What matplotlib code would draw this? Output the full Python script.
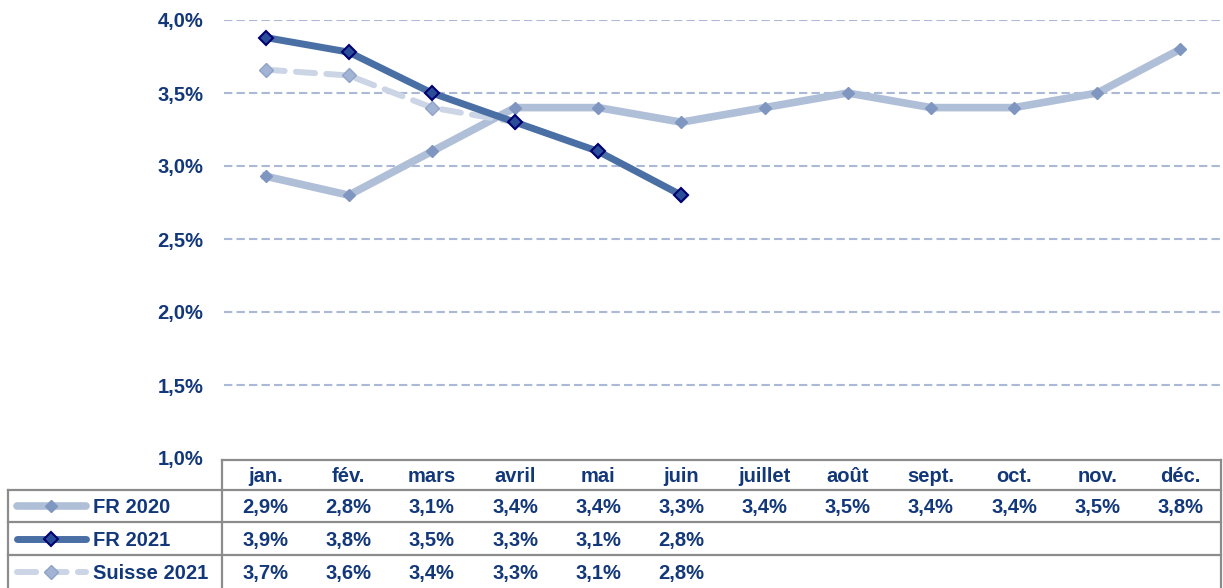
import matplotlib
matplotlib.use("Agg")
import matplotlib.pyplot as plt
from matplotlib.lines import Line2D
from matplotlib.transforms import blended_transform_factory

plt.rcParams['font.family'] = ['Liberation Sans', 'DejaVu Sans']
plt.rcParams['font.weight'] = 'bold'

# Data
months = ['jan.', 'fév.', 'mars', 'avril', 'mai', 'juin', 'juillet', 'août',
          'sept.', 'oct.', 'nov.', 'déc.']
fr_2020 = [2.93, 2.8, 3.1, 3.4, 3.4, 3.3, 3.4, 3.5, 3.4, 3.4, 3.5, 3.8]
fr_2021 = [3.88, 3.78, 3.5, 3.3, 3.1, 2.8]
ch_2021 = [3.66, 3.62, 3.4, 3.3, 3.1, 2.8]
y_ticks = [1.0, 1.5, 2.0, 2.5, 3.0, 3.5, 4.0]

txt = '#13387a'
grid_c = '#a9b9d6'
border = '#8c8c8c'
fs = 14.5

W, H = 1223, 588
fig = plt.figure(figsize=(W / 100, H / 100), dpi=100)
ax = fig.add_axes([224 / W, 1 - 458 / H, (1222 - 224) / W, (458 - 20) / H])

x = list(range(len(months)))

styles = {
    'FR 2020': dict(color='#b0bfd8', lw=5.5, marker='D', ms=6,
                    mfc='#7f96c0', mec='#7f96c0', ls='-', zorder=3),
    'Suisse 2021': dict(color='#cbd5e6', lw=4.3, marker='D', ms=7,
                        mfc='#a3b3d3', mec='#8fa3c8', ls=(0, (3.2, 1.9)),
                        dash_capstyle='round', zorder=4),
    'FR 2021': dict(color='#4a6fa5', lw=5, marker='D', ms=7,
                    mfc='#2a4d9a', mec='#000070', mew=1.5, ls='-', zorder=5),
}
series = {'FR 2020': fr_2020, 'FR 2021': fr_2021, 'Suisse 2021': ch_2021}

for name in ['FR 2020', 'Suisse 2021', 'FR 2021']:
    vals = series[name]
    ax.plot(x[:len(vals)], vals, **styles[name])

ax.set_xlim(-0.5, len(months) - 0.5)
ax.set_ylim(1.0, 4.0)
ax.set_yticks(y_ticks)
ax.set_yticklabels([f"{v:.1f}%".replace('.', ',') for v in y_ticks],
                   color=txt, fontsize=fs, fontweight='bold')
ax.tick_params(axis='y', length=0, pad=15)
ax.set_xticks([])
for t in y_ticks[1:]:
    ax.axhline(t, color=grid_c, lw=1.5, ls=(0, (4, 2)), zorder=1)
for s in ax.spines.values():
    s.set_visible(False)

# Data table below the chart
tr = blended_transform_factory(ax.transData, fig.transFigure)
fy = lambda py: 1 - py / H
fx = lambda px: px / W

row_tops = [460, 490, 522, 555, 588]
baselines = [482, 513, 546, 579]
left_col = 8
table_left = 222
table_right = 1221

lines_kw = dict(color=border, lw=1.6, transform=fig.transFigure)
fig.add_artist(Line2D([fx(table_left), fx(table_right)], [fy(row_tops[0])] * 2, **lines_kw))
for yy in row_tops[1:4]:
    fig.add_artist(Line2D([fx(left_col), fx(table_right)], [fy(yy)] * 2, **lines_kw))
fig.add_artist(Line2D([fx(table_left), fx(table_left)], [fy(row_tops[0]), 0], **lines_kw))
fig.add_artist(Line2D([fx(table_right), fx(table_right)], [fy(row_tops[0]), 0], **lines_kw))
fig.add_artist(Line2D([fx(left_col), fx(left_col)], [fy(row_tops[1]), 0], **lines_kw))

for i, m in enumerate(months):
    fig.text(i, fy(baselines[0]), m, transform=tr, ha='center', va='baseline',
             color=txt, fontsize=fs, fontweight='bold')

row_names = ['FR 2020', 'FR 2021', 'Suisse 2021']
for r, name in enumerate(row_names):
    yc = fy((row_tops[r + 1] + row_tops[r + 2]) / 2)
    yb = fy(baselines[r + 1])
    for i, v in enumerate(series[name]):
        fig.text(i, yb, f"{v:.1f}%".replace('.', ','), transform=tr,
                 ha='center', va='baseline', color=txt, fontsize=fs, fontweight='bold')
    st = dict(styles[name])
    st.pop('zorder')
    fig.add_artist(Line2D([fx(17), fx(86)], [yc, yc], transform=fig.transFigure,
                          solid_capstyle='round',
                          **{k: v for k, v in st.items() if k not in ('marker', 'ms', 'mfc', 'mec', 'mew')}))
    fig.add_artist(Line2D([fx(51)], [yc], transform=fig.transFigure, ls='none',
                          marker='D', ms=st['ms'], mfc=st['mfc'], mec=st['mec'],
                          mew=st.get('mew', 1)))
    fig.text(fx(93), yb, name, ha='left', va='baseline', color=txt,
             fontsize=fs, fontweight='bold')

fig.savefig('out.png', dpi=100)
